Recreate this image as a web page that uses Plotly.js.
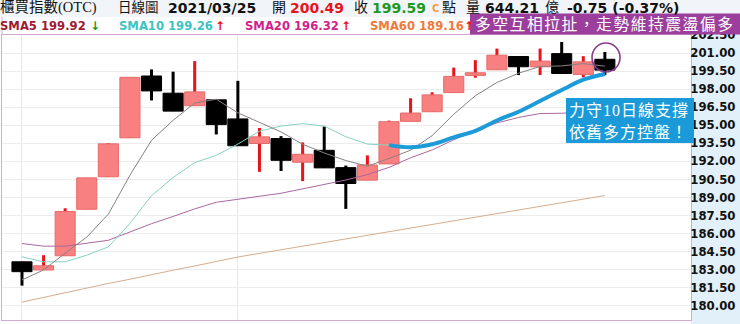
<!DOCTYPE html>
<html><head><meta charset="utf-8">
<script src="https://cdn.plot.ly/plotly-3.0.1.min.js"></script>
<style>html,body{margin:0;padding:0;background:#fff}#chart{width:740px;height:324px}</style>
</head><body><div id="chart"></div>
<script>
// ---- data ----
const openP  = [183.65,182.97,184.15,188.02,190.72,193.96,199.10,197.67,196.63,197.12,195.53,193.49,193.90,191.93,192.92,191.48,190.44,191.79,195.33,196.13,197.72,199.15,199.62,200.72,199.87,200.96,199.23,200.49];
const closeP = [182.83,183.32,187.83,190.63,193.46,198.99,197.86,196.18,197.78,195.06,193.30,194.04,192.09,192.59,191.46,190.16,191.70,195.30,196.02,197.53,199.07,199.37,200.83,199.87,200.34,199.31,200.28,199.59];
const highP  = [183.65,184.20,188.10,190.63,193.52,198.99,199.65,199.46,200.34,197.12,198.70,194.78,194.10,193.58,194.90,191.65,192.50,195.39,197.25,197.75,199.80,200.42,201.38,200.72,201.38,201.93,200.75,201.10];
const lowP   = [181.67,182.97,184.15,188.02,190.72,193.96,197.07,196.18,196.63,194.24,193.30,191.13,191.20,190.36,191.46,188.05,190.44,191.79,195.33,196.13,197.72,198.96,199.62,199.18,199.18,199.31,198.99,199.18];
const sma5   = [182.14,182.97,184.37,185.70,187.61,190.85,193.75,195.42,196.85,197.17,196.04,195.27,194.45,193.42,192.70,192.07,191.60,192.24,192.93,194.14,195.92,197.46,198.56,199.33,199.90,199.94,200.13,199.92];
const sma10  = [184.07,183.65,183.65,184.20,184.89,186.84,189.15,190.66,191.90,192.50,193.44,194.51,194.94,195.14,194.94,194.05,193.44,193.35,193.17,193.42,194.00,194.53,195.40,196.13,197.02,197.93,198.79,199.26];
const sma20  = [185.17,184.95,184.95,185.22,185.44,186.13,186.82,187.42,188.05,188.60,188.88,189.10,189.35,189.70,190.10,190.45,190.90,191.50,192.30,192.95,193.80,194.55,195.20,195.65,195.98,196.00,196.12,196.32];
const sma60  = [180.30,180.70,181.10,181.50,181.85,182.20,182.60,182.95,183.30,183.70,184.05,184.35,184.65,184.95,185.25,185.50,185.80,186.10,186.40,186.70,187.00,187.30,187.60,187.90,188.25,188.55,188.85,189.16];
const highlightFrom = 17;   // hand-drawn blue stroke follows SMA10 from this bar
const monthGridBars = [0, 10];
const yTickLabels = ['180.00','181.50','183.00','184.50','186.00','187.50','189.00','190.50','192.00','193.50','195.00','196.50','198.00','199.50','201.00','202.50'];

const titleName = '櫃買指數(OTC)';
const titleType = '日線圖';
const quoteDate = '2021/03/25';
const quoteOpen = '200.49';
const quoteClose = '199.59';
const quoteVol = '644.21';
const quoteChg = '-0.75 (-0.37%)';
const smaLabels = ['SMA5 199.92','SMA10 199.26','SMA20 196.32','SMA60 189.16'];
const smaArrows = ['↓','↑','↑','↑'];
const bannerText = '多空互相拉扯，走勢維持震盪偏多';
const noteLines = ['力守10日線支撐','依舊多方控盤！'];

// ---- layout helpers (pixel -> paper) ----
const W=740,H=324,L=2,R=49,T=35,B=4;
const pw=W-L-R, ph=H-T-B;
const px = x => (x-L)/pw;
const py = y => (H-B-y)/ph;

const idx = closeP.map((_,i)=>i);
const up = closeP.map((c,i)=>c>=openP[i]);
const RED='#e8141c', FILL='#f98080', EDGE='#e56a6a';

const wicks = {type:'bar', x:idx, base:lowP, y:highP.map((h,i)=>h-lowP[i]), width:0.14,
  marker:{color:up.map(u=>u?RED:'#000'), line:{width:0}}, hoverinfo:'skip'};
const bodies = {type:'bar', x:idx, base:openP.map((o,i)=>Math.min(o,closeP[i])),
  y:openP.map((o,i)=>Math.abs(closeP[i]-o)), width:0.93,
  marker:{color:up.map(u=>u?FILL:'#000'), line:{width:1,color:up.map(u=>u?EDGE:'#000')}}, hoverinfo:'skip'};
const line = (y,c,w) => ({type:'scatter', mode:'lines', x:idx, y:y, line:{color:c,width:w}, hoverinfo:'skip'});
const hx = idx.slice(highlightFrom), hy = sma10.slice(highlightFrom);
const traces = [wicks, bodies,
  line(sma60,'#d4ae90',1), line(sma20,'#a9699e',1), line(sma10,'#86d2c4',1), line(sma5,'#8a8082',1),
  {type:'scatter',mode:'lines',x:hx,y:hy,line:{color:'#1d9bd8',width:4,shape:'spline'},hoverinfo:'skip'}];

const bold = (s,c)=>({family:'DejaVu Sans',size:s,color:c,weight:'bold'});
const cjk = (s,c)=>({family:'Liberation Serif, Noto Sans CJK TC',size:s,color:c});
const ann = (x,y,text,font)=>({xref:'paper',yref:'paper',x:px(x),y:py(y),xanchor:'left',yanchor:'middle',text:text,showarrow:false,font:font,borderpad:0});

const annotations = [
  ann(-1,8,titleName,cjk(14.5,'#111')),
  ann(117,8,titleType,cjk(13.5,'#111')),
  ann(167,8,quoteDate,bold(14,'#111')),
  ann(271,8,'開',cjk(14,'#111')),
  ann(289,8,quoteOpen,bold(14,RED)),
  ann(353,8,'收',cjk(14,'#111')),
  ann(371,8,quoteClose,bold(14,'#1c9a22')),
  ann(431,9,'C',bold(10,'#f0a040')),
  ann(441,8,'點',cjk(14,'#111')),
  ann(465,8,'量',cjk(14,'#111')),
  ann(484,8,quoteVol,bold(14,'#111')),
  ann(544,8,'億',cjk(14,'#111')),
  ann(566,8,quoteChg,bold(14,'#111')),
  ann(-1,26,smaLabels[0],bold(11.6,'#9e1a32')),
  ann(89,26,smaArrows[0],bold(12,'#1c9a22')),
  ann(118,26,smaLabels[1],bold(11.6,'#3cc4c4')),
  ann(214,26,smaArrows[1],bold(12,RED)),
  ann(244,26,smaLabels[2],bold(11.6,'#d0228c')),
  ann(340,26,smaArrows[2],bold(12,RED)),
  ann(369,26,smaLabels[3],bold(11.6,'#f07a3a')),
  ann(463,26,smaArrows[3],bold(12,RED)),
  ann(474,24,'<span style="letter-spacing:1.5px">'+bannerText+'</span>',cjk(15.8,'#fff')),
  ann(568,110,'<span style="letter-spacing:1px">'+noteLines[0]+'</span>',cjk(16,'#fff')),
  ann(568,132,'<span style="letter-spacing:1px">'+noteLines[1]+'</span>',cjk(16,'#fff')),
];

const shapes = [
  {type:'rect',xref:'paper',yref:'paper',x0:px(0),x1:px(740),y0:py(17),y1:py(0),fillcolor:'#f1f5f9',line:{width:0},layer:'below'},
  {type:'rect',xref:'paper',yref:'paper',x0:px(691),x1:px(740),y0:py(324),y1:py(17),fillcolor:'#e2f0fa',line:{width:0},layer:'below'},
  {type:'line',xref:'paper',yref:'paper',x0:0,x1:0,y0:1,y1:py(17),line:{color:'#d6a8d6',width:1},layer:'below'},
  {type:'rect',xref:'paper',yref:'paper',x0:px(470),x1:px(741),y0:py(34.5),y1:py(13.5),fillcolor:'#9b3e9c',line:{width:0},layer:'above'},
  {type:'rect',xref:'paper',yref:'paper',x0:px(566),x1:px(694),y0:py(143),y1:py(98),fillcolor:'#1a9ad8',line:{width:0},layer:'above'},
  {type:'circle',xref:'paper',yref:'paper',x0:px(592),x1:px(620),y0:py(72),y1:py(43),line:{color:'#8b3a8f',width:1.6},layer:'above'},
];

const layout = {
  width:W, height:H, margin:{l:L,r:R,t:T,b:B}, showlegend:false, barmode:'overlay',
  paper_bgcolor:'#ffffff', plot_bgcolor:'#ffffff', hovermode:false,
  xaxis:{range:[-0.926,30.99], tickvals:monthGridBars, showticklabels:false, ticks:'', showgrid:true,
    gridcolor:'#e3e7ef', zeroline:false, showline:true, mirror:true, linecolor:'#d6a8d6', linewidth:1, fixedrange:true},
  yaxis:{side:'right', range:[178.81,202.51], tickvals:yTickLabels.map(Number), ticktext:yTickLabels, ticks:'',
    ticklabelstandoff:-4,
    tickfont:bold(11.7,'#111'), showgrid:true, gridcolor:'#ececec', zeroline:false, showline:true, mirror:true,
    linecolor:'#d6a8d6', linewidth:1, fixedrange:true},
  annotations:annotations, shapes:shapes
};
Plotly.newPlot('chart', traces, layout, {staticPlot:true, displayModeBar:false});
</script></body></html>
